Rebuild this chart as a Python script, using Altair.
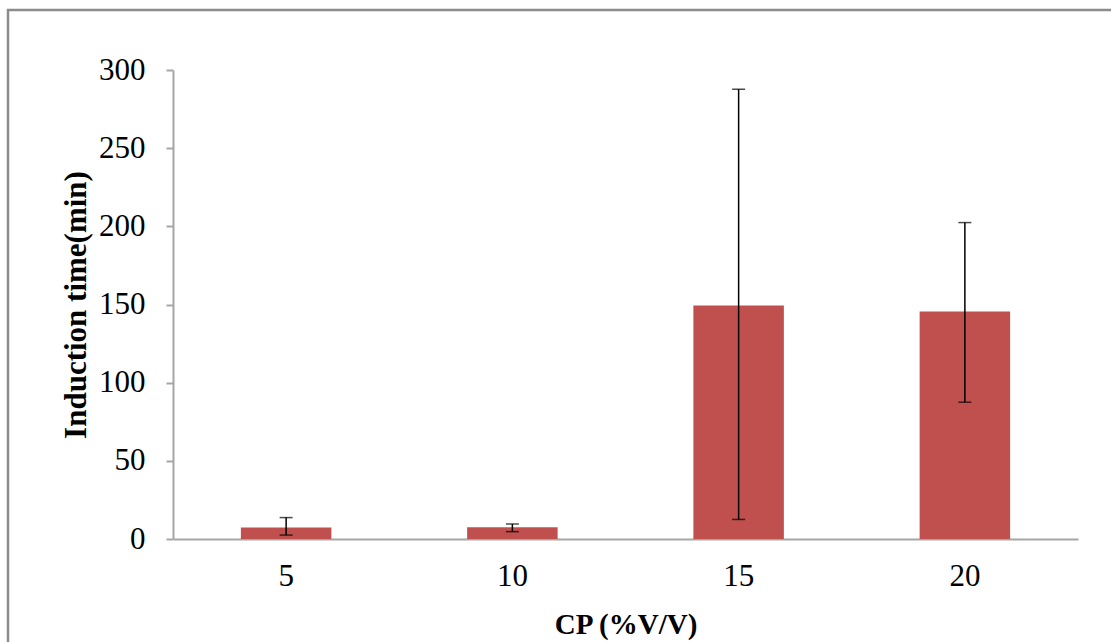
import altair as alt
import pandas as pd

cp = ["5", "10", "15", "20"]
mean_time = [7.3, 7.5, 149.3, 145.5]
err_low = [2.5, 4.7, 12.5, 87.5]
err_high = [13.7, 9.6, 287.7, 202.4]
y_ticks = [0, 50, 100, 150, 200, 250, 300]

df = pd.DataFrame({"cp": cp, "mean": mean_time, "lo": err_low, "hi": err_high})

FONT = "Liberation Serif"
AXIS_GRAY = "#a6a6a6"

xscale = alt.Scale(paddingInner=0.6, paddingOuter=0.3)
x_enc = alt.X("cp:N", sort=cp, scale=xscale,
              axis=alt.Axis(title="CP (%V/V)", labelAngle=0, ticks=False, tickSize=0,
                            labelPadding=22, titlePadding=19, titleFontSize=29))
yscale = alt.Scale(domain=[0, 300], nice=False)

base = alt.Chart(df)

bars = base.mark_bar(color="#C0504D").encode(
    x=x_enc,
    y=alt.Y("mean:Q", scale=yscale,
            axis=alt.Axis(title="Induction time(min)", values=y_ticks, grid=False,
                          tickSize=7, labelPadding=21, titlePadding=6, titleFontSize=31)),
)

rules = base.mark_rule(color="black", strokeWidth=1.5).encode(
    x=alt.X("cp:N", sort=cp, scale=xscale),
    y=alt.Y("lo:Q", scale=yscale),
    y2="hi:Q",
)
cap_hi = base.mark_tick(color="black", size=13, thickness=1.5).encode(
    x=alt.X("cp:N", sort=cp, scale=xscale),
    y=alt.Y("hi:Q", scale=yscale),
)
cap_lo = base.mark_tick(color="black", size=13, thickness=1.5).encode(
    x=alt.X("cp:N", sort=cp, scale=xscale),
    y=alt.Y("lo:Q", scale=yscale),
)

frame = alt.Chart(pd.DataFrame({"f": [0]})).mark_rect(
    fill=None, stroke="#8c8c8c", strokeWidth=2.5
).encode(
    x=alt.value(-165), x2=alt.value(960), y=alt.value(-60), y2=alt.value(600)
)

chart = alt.layer(frame, bars, rules, cap_hi, cap_lo).properties(
    width=905, height=469,
    autosize=alt.AutoSizeParams(type="none"),
    padding={"left": 173, "top": 70, "right": 33, "bottom": 103},
).configure_view(stroke=None).configure_axis(
    domainColor=AXIS_GRAY, domainWidth=2, tickColor=AXIS_GRAY, tickWidth=2,
    labelFont=FONT, labelFontSize=31, labelColor="black",
    titleFont=FONT, titleFontWeight="bold", titleColor="black",
)

chart.save("out.html", embed_options={"renderer": "svg", "actions": False})
